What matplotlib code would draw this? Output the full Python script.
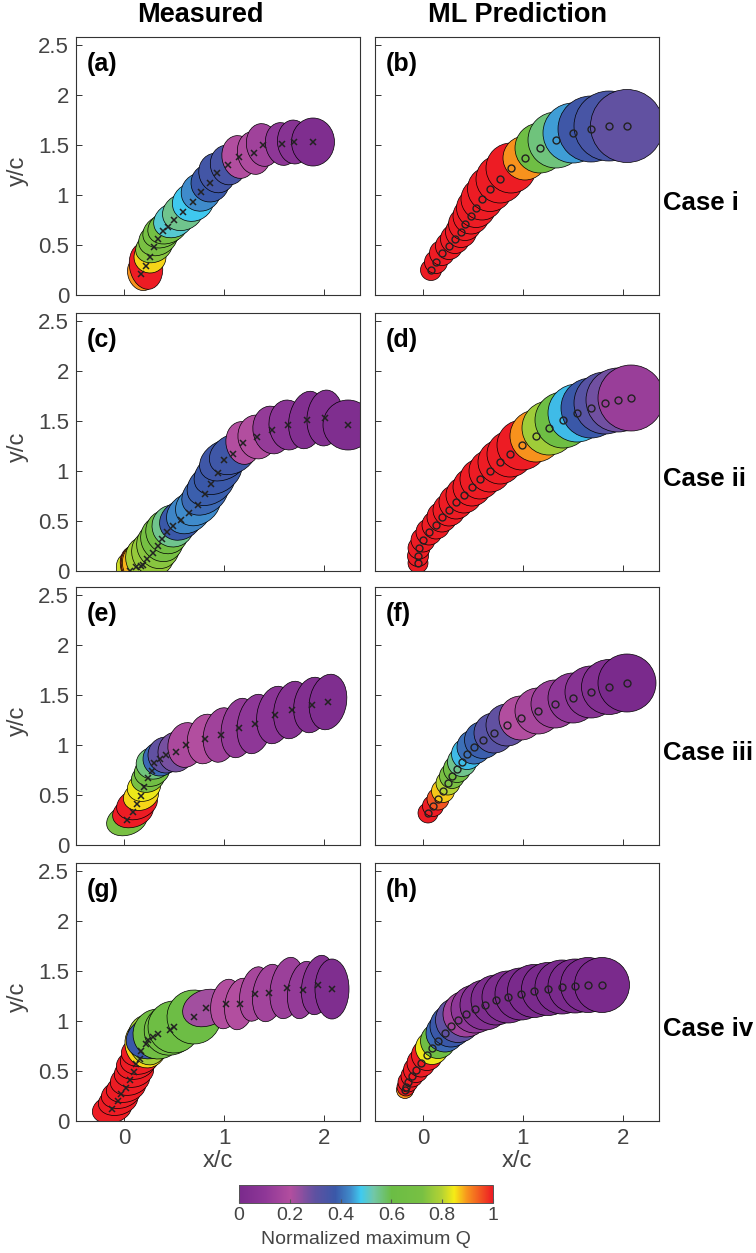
import numpy as np
import matplotlib as mpl
import matplotlib.pyplot as plt
from matplotlib.patches import Ellipse
from matplotlib.colors import LinearSegmentedColormap, Normalize

plt.rcParams['font.family'] = ['Liberation Sans', 'DejaVu Sans']

# colour scale (normalized maximum Q)
cb_pos = [0.0, 0.1, 0.2, 0.3, 0.38, 0.44, 0.48, 0.53, 0.6, 0.72, 0.8, 0.85, 0.9, 1.0]
cb_col = ['#7A2A8C', '#8E3797', '#B24E9F', '#5F51A1', '#3A58A8', '#3F8CCB', '#3FCAF0',
          '#72C7A8', '#6BBD45', '#78C043', '#B3D234', '#F6EB16', '#F7941D', '#ED1C24']

# (a) measured, case i
a_x = [0.17, 0.22, 0.26, 0.30, 0.34, 0.39, 0.44, 0.50, 0.59, 0.69, 0.77, 0.86, 0.93, 1.04, 1.15, 1.30, 1.39, 1.58, 1.70, 1.89]
a_y = [0.21, 0.29, 0.38, 0.48, 0.56, 0.64, 0.68, 0.75, 0.83, 0.93, 1.03, 1.12, 1.22, 1.30, 1.38, 1.42, 1.50, 1.51, 1.53, 1.53]
a_w = [0.26, 0.33, 0.32, 0.38, 0.4, 0.42, 0.42, 0.42, 0.42, 0.42, 0.4, 0.38, 0.36, 0.35, 0.34, 0.33, 0.33, 0.33, 0.33, 0.43]
a_h = [0.34, 0.47, 0.32, 0.3, 0.32, 0.32, 0.32, 0.34, 0.36, 0.38, 0.38, 0.38, 0.4, 0.4, 0.43, 0.43, 0.43, 0.43, 0.44, 0.48]
a_ang = [20, 10, 25, 25, 25, 25, 25, 25, 25, 25, 25, 20, 20, 15, 10, 10, 10, 10, 5, 0]
a_q = [0.9, 1.0, 0.86, 0.74, 0.72, 0.7, 0.68, 0.5, 0.55, 0.48, 0.44, 0.38, 0.36, 0.35, 0.2, 0.19, 0.15, 0.1, 0.07, 0.03]

# (b) prediction, case i
b_x = [0.08, 0.13, 0.19, 0.26, 0.32, 0.38, 0.42, 0.48, 0.53, 0.59, 0.67, 0.77, 0.88, 1.02, 1.17, 1.33, 1.50, 1.68, 1.86, 2.04]
b_y = [0.25, 0.33, 0.42, 0.49, 0.56, 0.63, 0.71, 0.79, 0.87, 0.96, 1.06, 1.16, 1.27, 1.37, 1.47, 1.55, 1.62, 1.66, 1.69, 1.69]
b_d = [0.21, 0.23, 0.25, 0.27, 0.29, 0.31, 0.33, 0.36, 0.39, 0.42, 0.45, 0.48, 0.5, 0.44, 0.5, 0.56, 0.6, 0.66, 0.7, 0.73]
b_q = [1, 1, 1, 1, 1, 1, 1, 1, 1, 1, 1, 1, 1, 0.9, 0.64, 0.56, 0.45, 0.37, 0.35, 0.3]

# (c) measured, case ii
c_x = [0.06, 0.12, 0.17, 0.19, 0.23, 0.29, 0.34, 0.38, 0.43, 0.49, 0.57, 0.65, 0.74, 0.81, 0.87, 0.94, 1.00, 1.09, 1.19, 1.33, 1.48, 1.64, 1.83, 2.01, 2.24]
c_y = [0.0, 0.04, 0.05, 0.06, 0.12, 0.18, 0.25, 0.32, 0.39, 0.45, 0.51, 0.58, 0.66, 0.77, 0.87, 0.98, 1.11, 1.17, 1.28, 1.34, 1.41, 1.46, 1.51, 1.53, 1.46]
c_w = [0.26, 0.3, 0.38, 0.4, 0.42, 0.42, 0.42, 0.42, 0.42, 0.42, 0.45, 0.48, 0.48, 0.5, 0.52, 0.52, 0.52, 0.5, 0.34, 0.38, 0.38, 0.38, 0.36, 0.36, 0.5]
c_h = [0.36, 0.42, 0.46, 0.46, 0.46, 0.46, 0.46, 0.46, 0.44, 0.42, 0.38, 0.38, 0.38, 0.38, 0.38, 0.38, 0.38, 0.38, 0.43, 0.44, 0.48, 0.5, 0.58, 0.56, 0.5]
c_ang = [20, 20, 25, 25, 25, 25, 25, 25, 30, 30, 35, 35, 35, 35, 35, 35, 30, 30, 10, 10, 10, 5, -10, -5, 0]
c_q = [0.82, 1.0, 0.9, 0.88, 0.78, 0.76, 0.74, 0.7, 0.66, 0.55, 0.38, 0.43, 0.44, 0.4, 0.39, 0.38, 0.37, 0.37, 0.2, 0.2, 0.12, 0.08, 0.04, 0.05, 0.03]

# (d) prediction, case ii
d_x = [-0.05, -0.05, -0.04, 0.0, 0.06, 0.13, 0.19, 0.26, 0.33, 0.41, 0.49, 0.57, 0.67, 0.77, 0.87, 0.99, 1.13, 1.26, 1.40, 1.54, 1.68, 1.82, 1.95, 2.08]
d_y = [0.08, 0.15, 0.23, 0.31, 0.39, 0.46, 0.54, 0.61, 0.69, 0.76, 0.84, 0.92, 1.00, 1.09, 1.17, 1.26, 1.35, 1.43, 1.51, 1.58, 1.63, 1.68, 1.71, 1.73]
d_d = [0.2, 0.21, 0.22, 0.24, 0.26, 0.28, 0.3, 0.32, 0.34, 0.36, 0.38, 0.4, 0.42, 0.44, 0.46, 0.5, 0.52, 0.54, 0.56, 0.58, 0.6, 0.62, 0.64, 0.66]
d_q = [1, 1, 1, 1, 1, 1, 1, 1, 1, 1, 1, 1, 1, 1, 1, 1, 0.9, 0.77, 0.63, 0.47, 0.38, 0.32, 0.28, 0.13]

# (e) measured, case iii
e_x = [0.03, 0.09, 0.13, 0.17, 0.20, 0.24, 0.28, 0.30, 0.36, 0.42, 0.52, 0.62, 0.81, 0.97, 1.15, 1.31, 1.51, 1.68, 1.88, 2.04]
e_y = [0.25, 0.33, 0.41, 0.49, 0.58, 0.67, 0.74, 0.82, 0.86, 0.90, 0.93, 1.00, 1.06, 1.10, 1.17, 1.21, 1.30, 1.35, 1.40, 1.43]
e_w = [0.42, 0.42, 0.42, 0.36, 0.34, 0.34, 0.36, 0.36, 0.34, 0.36, 0.36, 0.36, 0.35, 0.35, 0.35, 0.35, 0.36, 0.36, 0.36, 0.37]
e_h = [0.3, 0.3, 0.3, 0.28, 0.28, 0.28, 0.3, 0.32, 0.34, 0.36, 0.4, 0.45, 0.5, 0.55, 0.6, 0.6, 0.58, 0.58, 0.56, 0.56]
e_ang = [20, 20, 20, 20, 20, 20, 20, 15, 10, 0, -5, -10, -10, -10, -10, -10, -10, -10, -10, -10]
e_q = [0.72, 1.0, 1.0, 0.86, 0.84, 0.72, 0.65, 0.56, 0.4, 0.3, 0.27, 0.18, 0.2, 0.15, 0.12, 0.1, 0.08, 0.06, 0.04, 0.03]

# (f) prediction, case iii
f_x = [0.05, 0.10, 0.15, 0.20, 0.25, 0.29, 0.34, 0.39, 0.44, 0.51, 0.60, 0.71, 0.84, 0.98, 1.15, 1.32, 1.50, 1.68, 1.86, 2.04]
f_y = [0.32, 0.39, 0.46, 0.54, 0.62, 0.69, 0.76, 0.83, 0.91, 0.98, 1.05, 1.12, 1.20, 1.27, 1.34, 1.41, 1.47, 1.53, 1.58, 1.62]
f_d = [0.2, 0.21, 0.22, 0.23, 0.24, 0.25, 0.27, 0.29, 0.31, 0.34, 0.37, 0.4, 0.42, 0.44, 0.46, 0.48, 0.5, 0.52, 0.55, 0.58]
f_q = [1.0, 1.0, 0.95, 0.87, 0.8, 0.72, 0.66, 0.55, 0.47, 0.41, 0.39, 0.32, 0.3, 0.2, 0.17, 0.13, 0.1, 0.07, 0.04, 0.0]

# (g) measured, case iv
g_x = [-0.12, -0.06, -0.03, 0.02, 0.06, 0.10, 0.12, 0.16, 0.17, 0.22, 0.24, 0.29, 0.34, 0.46, 0.50, 0.70, 0.82, 1.02, 1.16, 1.31, 1.45, 1.63, 1.79, 1.94, 2.08]
g_y = [0.12, 0.20, 0.27, 0.33, 0.41, 0.49, 0.57, 0.62, 0.70, 0.77, 0.81, 0.84, 0.87, 0.91, 0.94, 1.04, 1.13, 1.17, 1.17, 1.27, 1.28, 1.33, 1.31, 1.36, 1.32]
g_w = [0.4, 0.4, 0.4, 0.4, 0.4, 0.4, 0.4, 0.4, 0.4, 0.42, 0.4, 0.55, 0.5, 0.52, 0.52, 0.54, 0.48, 0.3, 0.3, 0.3, 0.32, 0.33, 0.3, 0.32, 0.34]
g_h = [0.28, 0.28, 0.28, 0.28, 0.3, 0.3, 0.3, 0.3, 0.3, 0.48, 0.5, 0.42, 0.5, 0.5, 0.52, 0.54, 0.36, 0.5, 0.52, 0.55, 0.58, 0.62, 0.58, 0.6, 0.6]
g_ang = [15, 15, 15, 15, 15, 15, 15, 15, 15, 10, 10, 20, 25, 25, 25, 25, 20, -10, -10, -10, -10, -10, -10, -10, 0]
g_q = [1, 1, 1, 1, 1, 1, 1, 1, 1, 0.86, 0.78, 0.38, 0.66, 0.65, 0.63, 0.62, 0.22, 0.2, 0.2, 0.17, 0.16, 0.14, 0.12, 0.06, 0.03]

# (h) prediction, case iv
h_x = [-0.18, -0.17, -0.15, -0.11, -0.07, -0.02, 0.04, 0.09, 0.15, 0.22, 0.28, 0.35, 0.43, 0.52, 0.62, 0.73, 0.85, 0.98, 1.11, 1.25, 1.39, 1.52, 1.65, 1.79]
h_y = [0.31, 0.34, 0.39, 0.45, 0.51, 0.58, 0.66, 0.73, 0.80, 0.88, 0.95, 1.01, 1.07, 1.12, 1.16, 1.21, 1.24, 1.27, 1.30, 1.32, 1.34, 1.35, 1.36, 1.36]
h_d = [0.17, 0.18, 0.2, 0.22, 0.25, 0.28, 0.31, 0.33, 0.35, 0.38, 0.42, 0.45, 0.46, 0.48, 0.5, 0.5, 0.52, 0.52, 0.53, 0.53, 0.54, 0.54, 0.55, 0.55]
h_q = [0.9, 1, 1, 1, 1, 1, 1, 0.84, 0.64, 0.4, 0.38, 0.3, 0.15, 0.1, 0.05, 0.02, 0.02, 0, 0, 0, 0, 0, 0, 0]

case_labels = ['Case i', 'Case ii', 'Case iii', 'Case iv']
panel_labels = ['(a)', '(b)', '(c)', '(d)', '(e)', '(f)', '(g)', '(h)']
x_ticks = [0, 1, 2]
y_ticks = [0, 0.5, 1, 1.5, 2, 2.5]
y_ticklabels = ['0', '0.5', '1', '1.5', '2', '2.5']
cb_ticks = [0, 0.2, 0.4, 0.6, 0.8, 1]
cb_ticklabels = ['0', '0.2', '0.4', '0.6', '0.8', '1']

cmap = LinearSegmentedColormap.from_list('qmap', list(zip(cb_pos, cb_col)))

W, H = 756, 1253
fig = plt.figure(figsize=(W / 100, H / 100), dpi=100)
grey = '#444444'


def px_axes(x0, y0, w, h):
    return fig.add_axes([x0 / W, 1 - (y0 + h) / H, w / W, h / H])


def draw(ax, x, y, w, h, ang, q, marker):
    for i in range(len(x)):
        ax.add_patch(Ellipse((x[i], y[i]), w[i], h[i], angle=ang[i],
                             facecolor=cmap(float(q[i])), edgecolor='black', lw=0.5,
                             zorder=2 + i * 0.01))
    if marker == 'x':
        ax.plot(x, y, 'x', color='#222222', ms=4, mew=1.1, zorder=5)
    else:
        ax.plot(x, y, 'o', mfc='none', mec='#222222', ms=5, mew=1.0, zorder=5)


measured = [(a_x, a_y, a_w, a_h, a_ang, a_q), (c_x, c_y, c_w, c_h, c_ang, c_q),
            (e_x, e_y, e_w, e_h, e_ang, e_q), (g_x, g_y, g_w, g_h, g_ang, g_q)]
predicted = [(b_x, b_y, b_d, b_q), (d_x, d_y, d_d, d_q), (f_x, f_y, f_d, f_q), (h_x, h_y, h_d, h_q)]

row_tops = [37, 313, 587, 863]
col_x = [76, 375]
ax_w, ax_h = 284, 258

for r in range(4):
    for c in range(2):
        ax = px_axes(col_x[c], row_tops[r], ax_w, ax_h)
        if c == 0:
            mx, my, mw, mh, mang, mq = measured[r]
            draw(ax, mx, my, mw, mh, mang, mq, 'x')
        else:
            px_, py_, pd_, pq_ = predicted[r]
            draw(ax, px_, py_, pd_, pd_, [0] * len(px_), pq_, 'o')
        ax.set_xlim(-0.48, 2.36)
        ax.set_ylim(0, 2.58)
        ax.set_xticks(x_ticks)
        ax.set_yticks(y_ticks)
        ax.tick_params(direction='in', length=4, width=0.7, color='#333333',
                       labelcolor=grey, labelsize=16, pad=5)
        if c == 0:
            ax.set_yticklabels(y_ticklabels)
        else:
            ax.set_yticklabels([])
        if r == 3:
            ax.set_xticklabels([str(t) for t in x_ticks])
        else:
            ax.set_xticklabels([])
        for s in ax.spines.values():
            s.set_color('#333333')
            s.set_linewidth(0.8)
        ax.text(11 / ax_w, 1 - 27 / ax_h, panel_labels[2 * r + c], transform=ax.transAxes,
                ha='left', va='center', fontsize=18, fontweight='bold', zorder=10)
        if c == 0:
            fig.text(18 / W, 1 - (row_tops[r] + ax_h / 2 + 5) / H, 'y/c', rotation=90,
                     ha='center', va='center', fontsize=17, color=grey)
    fig.text(663 / W, 1 - (row_tops[r] + 166) / H, case_labels[r], ha='left', va='center',
             fontsize=18.5, fontweight='bold')

for c in range(2):
    fig.text((col_x[c] + ax_w / 2) / W, 1 - 1161 / H, 'x/c', ha='center', va='center',
             fontsize=17, color=grey)

fig.text(200 / W, 1 - 15 / H, 'Measured', ha='center', va='center', fontsize=19.5, fontweight='bold')
fig.text(517 / W, 1 - 15 / H, 'ML Prediction', ha='center', va='center', fontsize=19.5, fontweight='bold')

# colour bar
cax = px_axes(239, 1185, 254, 18)
sm = mpl.cm.ScalarMappable(norm=Normalize(0, 1), cmap=cmap)
cb = fig.colorbar(sm, cax=cax, orientation='horizontal')
cb.set_ticks(cb_ticks)
cb.set_ticklabels(cb_ticklabels)
cb.outline.set_edgecolor('#555555')
cb.outline.set_linewidth(0.7)
cax.tick_params(direction='in', length=3, color='#555555', labelcolor=grey, labelsize=14, pad=3)
fig.text(366 / W, 1 - 1240 / H, 'Normalized maximum Q', ha='center', va='center',
         fontsize=14, color=grey)

fig.savefig('out.png', dpi=100)
